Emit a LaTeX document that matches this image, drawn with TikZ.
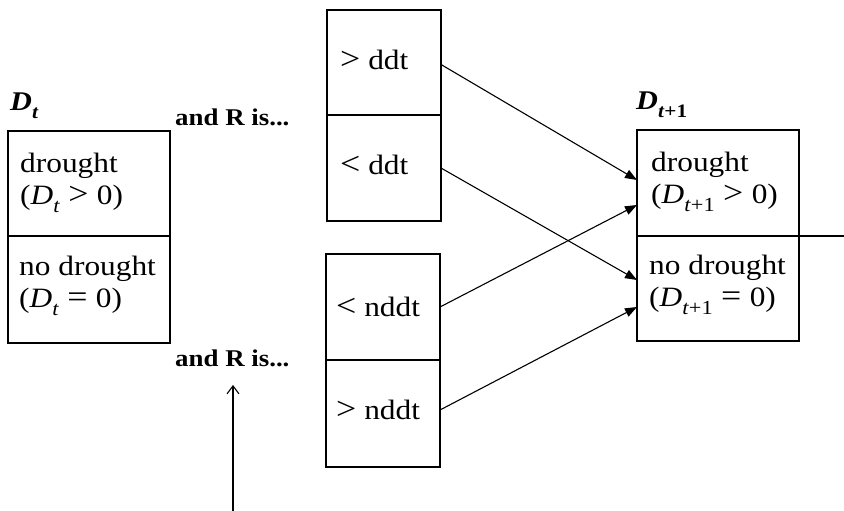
\documentclass[tikz,border=0pt]{standalone}
\usepackage{fontspec}
\setmainfont{Liberation Serif}[FakeStretch=1.12]
\usetikzlibrary{arrows.meta,positioning}
\newcommand{\dsub}[1]{\textit{D}\raisebox{-0.28em}{\fontsize{20}{20}\selectfont#1}}
\newcommand{\dsubb}[1]{\textbf{\textit{D}}\raisebox{-0.28em}{\fontsize{19}{19}\selectfont\bfseries#1}}
\newcommand{\rel}[1]{\hspace{0.3em}{\fontsize{32}{32}\selectfont#1}\hspace{0.3em}}
\begin{document}
\begin{tikzpicture}[x=1pt,y=1pt,
  cell/.style={draw=black,line width=1.3pt,minimum width=#1,inner xsep=0pt,inner ysep=0pt,outer sep=0pt},
  txt/.style={font=\fontsize{28}{32}\selectfont,inner sep=0pt},
  head/.style={font=\fontsize{27}{28}\selectfont,inner sep=0pt,anchor=west},
  andr/.style={font=\fontsize{24}{26}\selectfont\bfseries,inner sep=0pt,anchor=west},
  conn/.style={line width=1.1pt,-{Triangle[length=12pt,width=9pt]}},
  up/.style={line width=1.1pt,-{Straight Barb[length=8pt,width=12pt]}}]
\useasboundingbox (0,0) rectangle (844,511);
% left box
\node[cell=162pt,minimum height=105pt,anchor=north west] (ltop) at (8,380) {};
\node[cell=162pt,minimum height=107pt,anchor=north] (lbot) at (ltop.south) {};
\node[txt,align=left,anchor=west] (ltopt) at (20,328) {drought\\(\dsub{\textit{t}}\rel{>}0)};
\node[txt,align=left,anchor=west] (lbott) at (19,225) {no drought\\(\dsub{\textit{t}}\rel{=}0)};
\node[head] (dt) at (10,405) {\dsubb{\textit{t}}};
% and R is
\node[andr] (and1) at (175,394) {and R is...};
\node[andr] (and2) at (175,153) {and R is...};
% middle top
\node[cell=114pt,minimum height=105pt,anchor=north west] (mt1) at (327,501) {};
\node[cell=114pt,minimum height=106pt,anchor=north] (mt2) at (mt1.south) {};
\node[txt,anchor=west] (mt1t) at (340,451) {{\fontsize{32}{32}\selectfont>} ddt};
\node[txt,anchor=west] (mt2t) at (340,346) {{\fontsize{32}{32}\selectfont<} ddt};
% middle bottom
\node[cell=114pt,minimum height=106pt,anchor=north west] (mb1) at (326,257) {};
\node[cell=114pt,minimum height=107pt,anchor=north] (mb2) at (mb1.south) {};
\node[txt,anchor=west] (mb1t) at (336,204) {{\fontsize{32}{32}\selectfont<} nddt};
\node[txt,anchor=west] (mb2t) at (336,101) {{\fontsize{32}{32}\selectfont>} nddt};
% right box
\node[cell=162pt,minimum height=106pt,anchor=north west] (rtop) at (637,381) {};
\node[cell=162pt,minimum height=105pt,anchor=north] (rbot) at (rtop.south) {};
\node[txt,align=left,anchor=west] (rtopt) at (651,329) {drought\\(\dsub{\textit{t}+1}\rel{>}0)};
\node[txt,align=left,anchor=west] (rbott) at (649,226) {no drought\\(\dsub{\textit{t}+1}\rel{=}0)};
\node[head] (dt1) at (636,406) {\dsubb{\textit{t}+1}};
\path (rtop.south east) ++(45,0) coordinate (rend);
\draw[line width=1.1pt] (rtop.south east) -- (rend);
% arrows
\draw[conn] ([yshift=-2pt]mt1.east) -- ([yshift=3pt]rtop.west);
\draw[conn] (mt2.east) -- ([yshift=8.5pt]rbot.west);
\draw[conn] (mb1.east) -- ([yshift=-22pt]rtop.west);
\draw[conn] ([yshift=3.5pt]mb2.east) -- ([yshift=-18.5pt]rbot.west);
\coordinate (vbot) at (233,0);
\coordinate (vtop) at (233,126);
\draw[up] (vbot) -- (vtop);
\end{tikzpicture}
\end{document}
